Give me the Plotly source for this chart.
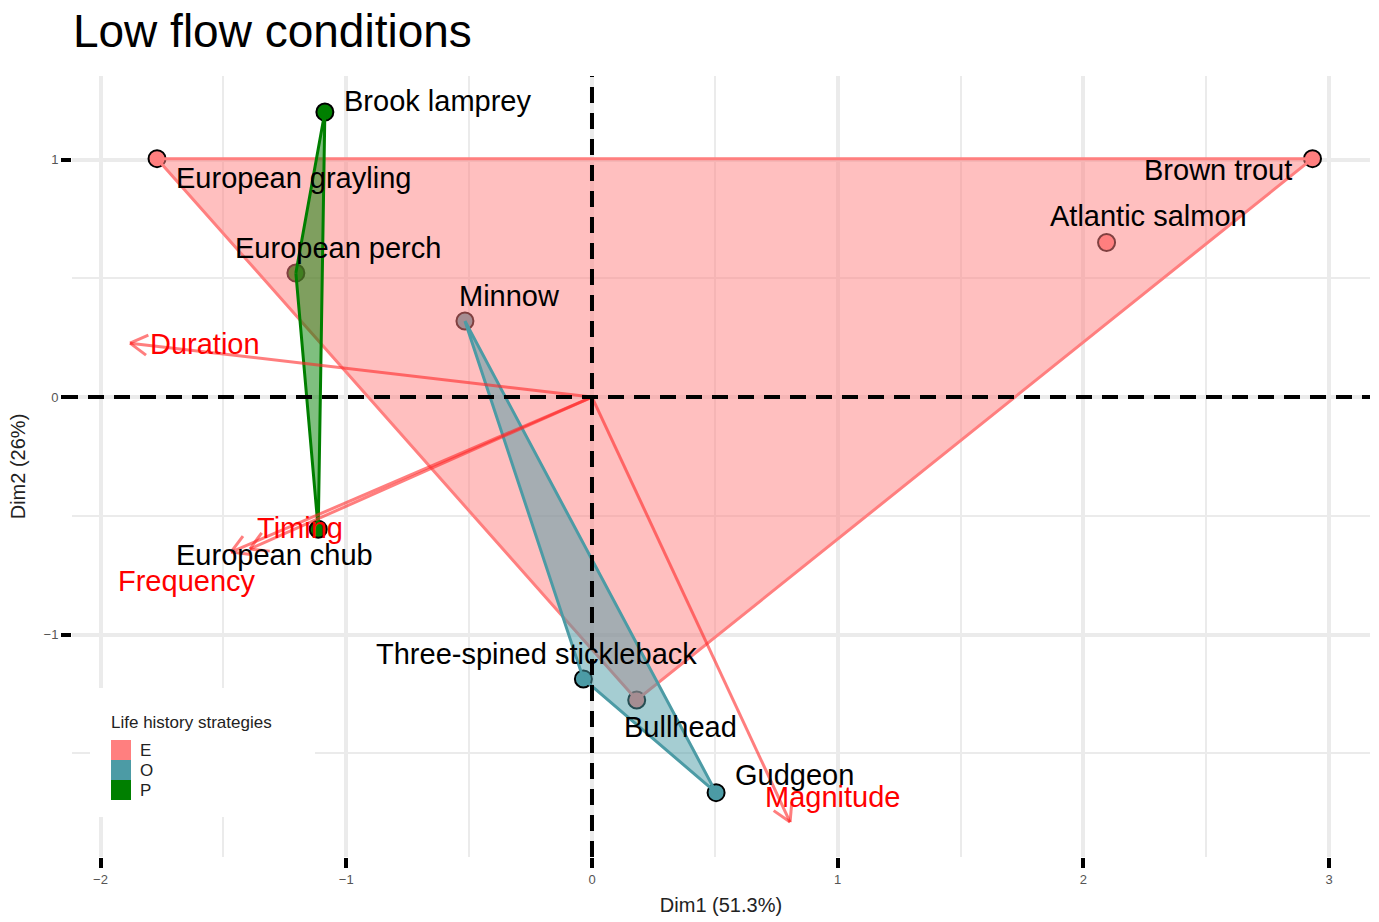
import math
import plotly.graph_objects as go

# ---- individuals (species scores on the first two dimensions) ----
species = ["Brook lamprey", "European grayling", "European perch", "Minnow",
           "European chub", "Three-spined stickleback", "Bullhead", "Gudgeon",
           "Brown trout", "Atlantic salmon"]
dim1 = [-1.087, -1.770, -1.205, -0.517, -1.114, -0.035, 0.182, 0.505, 2.932, 2.094]
dim2 = [1.200, 1.004, 0.522, 0.320, -0.557, -1.187, -1.276, -1.666, 1.004, 0.651]
strategy = ["P", "E", "P", "O", "P", "O", "E", "O", "E", "E"]

# ---- variables (flow metrics) ----
variables = ["Duration", "Timing", "Frequency", "Magnitude"]
load1 = [-1.880, -1.392, -1.469, 0.806]
load2 = [0.227, -0.640, -0.653, -1.790]

groups = ["E", "O", "P"]

# ---- styling ----
colors = {"E": "#FF7F7F", "O": "#4C9BA5", "P": "#007F00"}
fills = {"E": "rgba(255,127,127,0.5)", "O": "rgba(76,155,165,0.5)", "P": "rgba(0,127,0,0.5)"}
FONT = "Liberation Sans, Arial, sans-serif"
W, H = 1379, 922
ML, MR, MT, MB = 72, 9, 76, 65
XR = [-2.116, 3.166]
YR = [-1.937, 1.352]
PX_X = (W - ML - MR) / (XR[1] - XR[0])
PX_Y = (H - MT - MB) / (YR[1] - YR[0])

# label offsets in pixels (left edge / vertical centre relative to the mark)
species_offsets = {
    "Brook lamprey": (17, 11), "European grayling": (17, -19),
    "European perch": (-63, 25), "Minnow": (-8, 25),
    "European chub": (-144, -26), "Three-spined stickleback": (-209, 25),
    "Bullhead": (-15, -27), "Gudgeon": (17, 18),
    "Brown trout": (-171, -11), "Atlantic salmon": (-59, 26),
}
variable_offsets = {
    "Duration": (18, -1), "Timing": (5, 21),
    "Frequency": (-115, -29), "Magnitude": (-27, 25),
}


def convex_hull(pts):
    pts = sorted(set(pts))
    if len(pts) <= 2:
        return pts

    def cross(o, a, b):
        return (a[0] - o[0]) * (b[1] - o[1]) - (a[1] - o[1]) * (b[0] - o[0])

    lower, upper = [], []
    for p in pts:
        while len(lower) >= 2 and cross(lower[-2], lower[-1], p) <= 0:
            lower.pop()
        lower.append(p)
    for p in reversed(pts):
        while len(upper) >= 2 and cross(upper[-2], upper[-1], p) <= 0:
            upper.pop()
        upper.append(p)
    return lower[:-1] + upper[:-1]


fig = go.Figure()

# points
for g in groups:
    idx = [i for i, s in enumerate(strategy) if s == g]
    fig.add_trace(go.Scatter(
        x=[dim1[i] for i in idx], y=[dim2[i] for i in idx], mode="markers",
        marker=dict(size=17, color=colors[g], line=dict(color="black", width=2)),
        showlegend=False, hoverinfo="skip"))

# convex hulls per life history strategy
for g in groups:
    pts = [(dim1[i], dim2[i]) for i, s in enumerate(strategy) if s == g]
    hull = convex_hull(pts)
    hull.append(hull[0])
    fig.add_trace(go.Scatter(
        x=[p[0] for p in hull], y=[p[1] for p in hull], mode="lines",
        fill="toself", fillcolor=fills[g],
        line=dict(color=colors[g], width=3), showlegend=False, hoverinfo="skip"))

# variable arrows with open heads
ARROW = "rgba(255,40,40,0.6)"
for v, a, b in zip(variables, load1, load2):
    fig.add_trace(go.Scatter(x=[0, a], y=[0, b], mode="lines",
                             line=dict(color=ARROW, width=3),
                             showlegend=False, hoverinfo="skip"))
    ang = math.atan2(b * PX_Y, a * PX_X)
    hx, hy = [], []
    for s in (+1, -1):
        t = ang + math.pi - s * math.radians(30)
        hx += [a + 20 * math.cos(t) / PX_X, a, None]
        hy += [b + 20 * math.sin(t) / PX_Y, b, None]
    fig.add_trace(go.Scatter(x=hx, y=hy, mode="lines",
                             line=dict(color=ARROW, width=3),
                             showlegend=False, hoverinfo="skip"))

# reference lines
fig.add_shape(type="line", xref="paper", yref="y", x0=-10 / (W - ML - MR), x1=1,
              y0=0, y1=0, line=dict(color="black", width=4, dash="16px,10px"))
fig.add_shape(type="line", xref="x", yref="paper", x0=0, x1=0, y0=0, y1=1,
              line=dict(color="black", width=4, dash="16px,10px"))

# labels
for s, x, y in zip(species, dim1, dim2):
    dx, dy = species_offsets[s]
    fig.add_annotation(x=x, y=y, text=s, showarrow=False, xanchor="left",
                       yanchor="middle", xshift=dx, yshift=dy,
                       font=dict(family=FONT, size=29, color="black"))
for v, a, b in zip(variables, load1, load2):
    dx, dy = variable_offsets[v]
    fig.add_annotation(x=a, y=b, text=v, showarrow=False, xanchor="left",
                       yanchor="middle", xshift=dx, yshift=dy,
                       font=dict(family=FONT, size=29, color="#FF0000"))


# legend drawn in pixel space
def px(xp):
    return (xp - ML) / (W - ML - MR)


def py(yp):
    return (H - MB - yp) / (H - MT - MB)


fig.add_shape(type="rect", xref="paper", yref="paper", x0=px(90), x1=px(315),
              y0=py(817), y1=py(688), fillcolor="white", line=dict(width=0),
              layer="above")
fig.add_annotation(xref="paper", yref="paper", x=px(109), y=py(722),
                   text="Life history strategies", showarrow=False,
                   xanchor="left", yanchor="middle",
                   font=dict(family=FONT, size=17, color="#222222"))
for k, g in enumerate(groups):
    top = 740 + 20 * k
    fig.add_shape(type="rect", xref="paper", yref="paper", x0=px(111), x1=px(131),
                  y0=py(top + 20), y1=py(top), fillcolor=colors[g],
                  line=dict(width=0), layer="above")
    fig.add_annotation(xref="paper", yref="paper", x=px(138), y=py(top + 10),
                       text=g, showarrow=False, xanchor="left", yanchor="middle",
                       font=dict(family=FONT, size=17, color="#222222"))

axis_common = dict(
    showgrid=True, gridcolor="#EBEBEB", gridwidth=4, zeroline=False,
    ticks="outside", ticklen=10, tickwidth=4, tickcolor="black",
    tickfont=dict(family=FONT, size=13, color="#555555"),
    showline=False, dtick=1,
    minor=dict(dtick=0.5, showgrid=True, gridcolor="#EBEBEB", gridwidth=2),
)

fig.update_layout(
    width=W, height=H,
    margin=dict(l=ML, r=MR, t=MT, b=MB),
    paper_bgcolor="white", plot_bgcolor="white",
    title=dict(text="Low flow conditions", x=1 / W, xref="paper", xanchor="left",
               y=1 - 31 / H, yref="container", yanchor="middle",
               font=dict(family=FONT, size=46, color="black")),
    xaxis=dict(range=XR, title=dict(text="Dim1 (51.3%)", standoff=12,
                                    font=dict(family=FONT, size=20, color="#222222")),
               tick0=0, **axis_common),
    yaxis=dict(range=YR, title=dict(text="Dim2 (26%)", standoff=12,
                                    font=dict(family=FONT, size=20, color="#222222")),
               tick0=0, **axis_common),
    showlegend=False,
)

fig.write_html("out.html")
